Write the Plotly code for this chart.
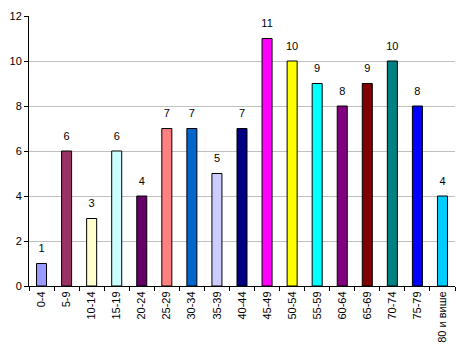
import plotly.graph_objects as go

categories = ["0-4", "5-9", "10-14", "15-19", "20-24", "25-29", "30-34", "35-39", "40-44",
              "45-49", "50-54", "55-59", "60-64", "65-69", "70-74", "75-79", "80 и више"]
values = [1, 6, 3, 6, 4, 7, 7, 5, 7, 11, 10, 9, 8, 9, 10, 8, 4]
colors = ["#9999FF", "#993366", "#FFFFCC", "#CCFFFF", "#660066", "#FF8080", "#0066CC", "#CCCCFF",
          "#000080", "#FF00FF", "#FFFF00", "#00FFFF", "#800080", "#800000", "#008080", "#0000FF", "#00CCFF"]
y_ticks = [0, 2, 4, 6, 8, 10, 12]

fig = go.Figure()
fig.add_trace(go.Bar(
    x=categories, y=values,
    marker=dict(color=colors, line=dict(color="black", width=1)),
    hoverinfo="skip",
))
fig.add_trace(go.Scatter(
    x=categories, y=values, mode="markers+text",
    marker=dict(size=12, opacity=0),
    text=[str(v) for v in values], textposition="top center", cliponaxis=False,
    textfont=dict(family="Arial", size=11, color="black"),
))
fig.update_layout(
    width=468, height=350,
    margin=dict(l=29, r=13, t=16, b=64),
    paper_bgcolor="white", plot_bgcolor="white",
    bargap=0.6, showlegend=False,
    font=dict(family="Arial", size=11, color="black"),
)
fig.update_xaxes(
    type="category", range=[-0.5, len(categories) - 0.5], tickangle=-90,
    showline=True, linecolor="black", linewidth=1,
    ticks="outside", tickson="boundaries", ticklen=4, tickcolor="black",
    showgrid=False, automargin=False, tickfont=dict(family="Arial", size=11, color="black"),
)
fig.update_yaxes(
    range=[0, 12], tickvals=y_ticks, showline=True, linecolor="black", linewidth=1,
    ticks="outside", ticklen=4, tickcolor="black", automargin=False,
    showgrid=True, gridcolor="#C0C0C0", gridwidth=1, zeroline=False,
    tickfont=dict(family="Arial", size=11, color="black"),
)
fig.write_html("out.html")
